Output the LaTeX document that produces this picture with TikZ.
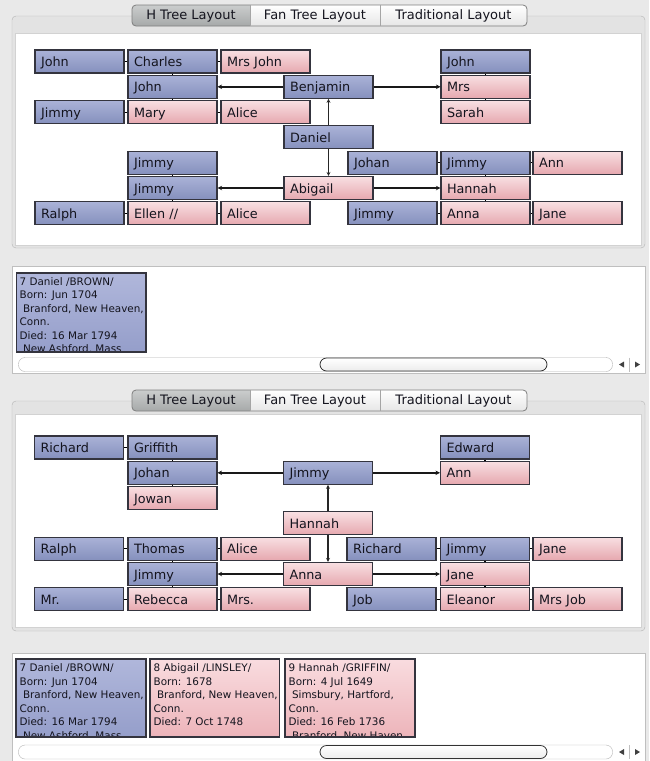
\documentclass[tikz,border=0pt]{standalone}
\usepackage{fontspec}
\setmainfont{DejaVu Sans}
\usetikzlibrary{arrows.meta}
\definecolor{winbg}{HTML}{E9E9E9}
\definecolor{grpbg}{HTML}{E3E3E3}
\definecolor{grpedge}{HTML}{B4B4B4}
\definecolor{blueT}{HTML}{AAB2D7}
\definecolor{blueB}{HTML}{8590BD}
\definecolor{pinkT}{HTML}{F8DFE2}
\definecolor{pinkB}{HTML}{E6A8AF}
\definecolor{edge}{HTML}{34343E}
\definecolor{txt}{HTML}{14141E}
\definecolor{tabB}{HTML}{E6E6E6}
\definecolor{selT}{HTML}{CBCDCD}
\definecolor{selB}{HTML}{A6A9A9}
\definecolor{tabedge}{HTML}{7E7E7E}
\definecolor{cbT}{HTML}{B0B7DB}
\definecolor{cbB}{HTML}{959ECA}
\definecolor{cpT}{HTML}{F9DCDF}
\definecolor{cpB}{HTML}{EDB4BA}
\tikzset{
  pbox/.style={draw=edge, line width=1.1pt, rectangle, minimum width=89pt,
    minimum height=23pt, text width=77pt, align=left, inner xsep=6pt,
    inner ysep=0pt, text height=11.5pt, text depth=1.5pt,
    font=\fontsize{12.8}{14}\selectfont, text=txt},
  bl/.style={pbox, top color=blueT, bottom color=blueB},
  pk/.style={pbox, top color=pinkT, bottom color=pinkB},
  tick/.style={draw=black, line width=1.2pt},
  link/.style={draw=black!90, line width=1.6pt, -{Stealth[length=4.5pt,width=4.5pt]}},
  vlink/.style={draw=black!85, line width=1.1pt, -{Stealth[length=4pt,width=4pt]}},
  tabtxt/.style={font=\fontsize{13}{15}\selectfont, text=txt, inner sep=0pt},
  ctext/.style={anchor=base west, inner sep=0pt, font=\fontsize{10.4}{12}\selectfont, text=txt},
}
\newcommand\mytabs[2]{%
  \begin{scope}
    \clip[rounded corners=4pt] (132,#2) rectangle (527,#2+21);
    \shade[top color=white, bottom color=tabB] (132,#2) rectangle (527,#2+21);
    \shade[top color=selT, bottom color=selB] (132,#2) rectangle (250,#2+21);
  \end{scope}
  \draw[tabedge, line width=0.8pt, rounded corners=4pt] (132,#2) rectangle (527,#2+21);
  \draw[tabedge!70] (250,#2) -- (250,#2+21) (380,#2) -- (380,#2+21);
  \node[tabtxt] (#1-tab1) at (191,#2+11) {H Tree Layout};
  \node[tabtxt] (#1-tab2) at (315,#2+11) {Fan Tree Layout};
  \node[tabtxt] (#1-tab3) at (453.5,#2+11) {Traditional Layout};
}
\newcommand\myscroll[1]{%
  \draw[gray!60, fill=white, rounded corners=6.5pt] (18.5,#1) rectangle (612.5,#1+14);
  \shadedraw[draw=gray!40!black, line width=0.8pt, top color=white, bottom color=gray!15, rounded corners=6.5pt] (320,#1+0.5) rectangle (547,#1+13.5);
  \draw[gray!50] (629.5,#1) -- (629.5,#1+14);
  \fill[black!75] (619,#1+7) -- (624,#1+4) -- (624,#1+10) -- cycle;
  \fill[black!75] (640,#1+7) -- (635,#1+4) -- (635,#1+10) -- cycle;
}
\begin{document}
\begin{tikzpicture}[x=1pt,y=-1pt]
\useasboundingbox (0,0) rectangle (649,761);
\fill[winbg] (0,0) rectangle (649,761);

% ================= TOP PANEL =================
\draw[grpedge, fill=grpbg, rounded corners=4pt] (12,16) rectangle (645,248);
\draw[gray!35, fill=white] (15,33) rectangle (641,245);
\mytabs{t}{5}

% row 1
\node[bl] (tA) at (79.5,61.5) {John};
\node[bl] (tB) at (172.5,61.5) {Charles};
\node[pk] (tC) at (265.5,61.5) {Mrs John};
\node[bl] (tD) at (485.5,61.5) {John};
% row 2
\node[bl] (tE) at (172.5,86.8) {John};
\node[bl] (tBen) at (328.5,86.8) {Benjamin};
\node[pk] (tF) at (485.5,86.8) {Mrs};
% row 3
\node[bl] (tG) at (79.5,112.1) {Jimmy};
\node[pk] (tH) at (172.5,112.1) {Mary};
\node[pk] (tI) at (265.5,112.1) {Alice};
\node[pk] (tJ) at (485.5,112.1) {Sarah};
% row 4
\node[bl] (tDan) at (328.5,137.4) {Daniel};
% row 5
\node[bl] (tK) at (172.5,162.7) {Jimmy};
\node[bl] (tL) at (392.5,162.7) {Johan};
\node[bl] (tM) at (485.5,162.7) {Jimmy};
\node[pk] (tN) at (577.5,162.7) {Ann};
% row 6
\node[bl] (tO) at (172.5,188) {Jimmy};
\node[pk] (tAbi) at (328.5,188) {Abigail};
\node[pk] (tP) at (485.5,188) {Hannah};
% row 7
\node[bl] (tQ) at (79.5,213.3) {Ralph};
\node[pk] (tR) at (172.5,213.3) {Ellen //};
\node[pk] (tS) at (265.5,213.3) {Alice};
\node[bl] (tT) at (392.5,213.3) {Jimmy};
\node[pk] (tU) at (485.5,213.3) {Anna};
\node[pk] (tV) at (577.5,213.3) {Jane};

\draw[tick] (tA.east) -- (tB.west);
\draw[tick] (tB.east) -- (tC.west);
\draw[tick] (tB.south) -- (tE.north);
\draw[tick] (tE.south) -- (tH.north);
\draw[tick] (tG.east) -- (tH.west);
\draw[tick] (tH.east) -- (tI.west);
\draw[tick] (tD.south) -- (tF.north);
\draw[tick] (tF.south) -- (tJ.north);
\draw[link] (tBen.west) -- (tE.east);
\draw[link] (tBen.east) -- (tF.west);
\draw[vlink] (tDan.north) -- (tBen.south);
\draw[vlink] (tDan.south) -- (tAbi.north);
\draw[link] (tAbi.west) -- (tO.east);
\draw[link] (tAbi.east) -- (tP.west);
\draw[tick] (tK.south) -- (tO.north);
\draw[tick] (tO.south) -- (tR.north);
\draw[tick] (tQ.east) -- (tR.west);
\draw[tick] (tR.east) -- (tS.west);
\draw[tick] (tL.east) -- (tM.west);
\draw[tick] (tM.east) -- (tN.west);
\draw[tick] (tM.south) -- (tP.north);
\draw[tick] (tP.south) -- (tU.north);
\draw[tick] (tT.east) -- (tU.west);
\draw[tick] (tU.east) -- (tV.west);

% ================= TOP INFO =================
\draw[gray!50, fill=white] (12,266.5) rectangle (645,373);
\begin{scope}
  \clip (16.5,273) rectangle (146,352);
  \shade[top color=cbT, bottom color=cbB] (16.5,273) rectangle (146,352);
  \foreach \t [count=\i] in {7 Daniel /BROWN/, Born: Jun 1704, {\ Branford, New Heaven,}, Conn., Died: 16 Mar 1794, {\ New Ashford, Mass}}
    \node[ctext] (ka\i) at (19.5,285+13.5*\i-13.5) {\t};
\end{scope}
\draw[edge, line width=1.2pt] (16.5,273) rectangle (146,352);
\myscroll{357.5}

% ================= LOWER PANEL =================
\draw[grpedge, fill=grpbg, rounded corners=4pt] (12,401) rectangle (645,631);
\draw[gray!35, fill=white] (15,414) rectangle (641,627);
\mytabs{b}{390}

% row 1
\node[bl] (bA) at (79,447.5) {Richard};
\node[bl] (bB) at (172.5,447.5) {Griffith};
\node[bl] (bC) at (485,447.5) {Edward};
% row 2
\node[bl] (bD) at (172.5,472.8) {Johan};
\node[bl] (bJim) at (328,472.8) {Jimmy};
\node[pk] (bE) at (485,472.8) {Ann};
% row 3
\node[pk] (bF) at (172.5,498.1) {Jowan};
% row 4
\node[pk] (bHan) at (328,523.4) {Hannah};
% row 5
\node[bl] (bG) at (79,548.7) {Ralph};
\node[bl] (bH) at (172.5,548.7) {Thomas};
\node[pk] (bI) at (265.5,548.7) {Alice};
\node[bl] (bJ) at (391.5,548.7) {Richard};
\node[bl] (bK) at (485,548.7) {Jimmy};
\node[pk] (bL) at (577.5,548.7) {Jane};
% row 6
\node[bl] (bM) at (172.5,574) {Jimmy};
\node[pk] (bAnna) at (328,574) {Anna};
\node[pk] (bN) at (485,574) {Jane};
% row 7
\node[bl] (bO) at (79,599.3) {Mr.};
\node[pk] (bP) at (172.5,599.3) {Rebecca};
\node[pk] (bQ) at (265.5,599.3) {Mrs.};
\node[bl] (bR) at (391.5,599.3) {Job};
\node[pk] (bS) at (485,599.3) {Eleanor};
\node[pk] (bT) at (577.5,599.3) {Mrs Job};

\draw[tick] (bA.east) -- (bB.west);
\draw[tick] (bB.south) -- (bD.north);
\draw[tick] (bD.south) -- (bF.north);
\draw[tick] (bC.south) -- (bE.north);
\draw[link] (bJim.west) -- (bD.east);
\draw[link] (bJim.east) -- (bE.west);
\draw[vlink] (bHan.north) -- (bJim.south);
\draw[vlink] (bHan.south) -- (bAnna.north);
\draw[link] (bAnna.west) -- (bM.east);
\draw[link] (bAnna.east) -- (bN.west);
\draw[tick] (bG.east) -- (bH.west);
\draw[tick] (bH.east) -- (bI.west);
\draw[tick] (bH.south) -- (bM.north);
\draw[tick] (bM.south) -- (bP.north);
\draw[tick] (bO.east) -- (bP.west);
\draw[tick] (bP.east) -- (bQ.west);
\draw[tick] (bJ.east) -- (bK.west);
\draw[tick] (bK.east) -- (bL.west);
\draw[tick] (bK.south) -- (bN.north);
\draw[tick] (bN.south) -- (bS.north);
\draw[tick] (bR.east) -- (bS.west);
\draw[tick] (bS.east) -- (bT.west);

% ================= LOWER INFO =================
\draw[gray!50, fill=white] (12,653) rectangle (645,762);
\begin{scope}
  \clip (16,659) rectangle (146,737);
  \shade[top color=cbT, bottom color=cbB] (16,659) rectangle (146,737);
  \foreach \t [count=\i] in {7 Daniel /BROWN/, Born: Jun 1704, {\ Branford, New Heaven,}, Conn., Died: 16 Mar 1794, {\ New Ashford, Mass}}
    \node[ctext] (kb\i) at (19.5,671.5+13.5*\i-13.5) {\t};
\end{scope}
\draw[edge, line width=1.2pt] (16,659) rectangle (146,737);
\begin{scope}
  \clip (150,659) rectangle (279.5,737);
  \shade[top color=cpT, bottom color=cpB] (150,659) rectangle (279.5,737);
  \foreach \t [count=\i] in {8 Abigail /LINSLEY/, Born: 1678, {\ Branford, New Heaven,}, Conn., Died: 7 Oct 1748}
    \node[ctext] (kc\i) at (153.5,671.5+13.5*\i-13.5) {\t};
\end{scope}
\draw[edge, line width=1.2pt] (150,659) rectangle (279.5,737);
\begin{scope}
  \clip (285,659) rectangle (415,737);
  \shade[top color=cpT, bottom color=cpB] (285,659) rectangle (415,737);
  \foreach \t [count=\i] in {9 Hannah /GRIFFIN/, Born: 4 Jul 1649, {\ Simsbury, Hartford,}, Conn., Died: 16 Feb 1736, {\ Branford, New Haven}}
    \node[ctext] (kd\i) at (288.5,671.5+13.5*\i-13.5) {\t};
\end{scope}
\draw[edge, line width=1.2pt] (285,659) rectangle (415,737);
\myscroll{745}
\end{tikzpicture}
\end{document}
